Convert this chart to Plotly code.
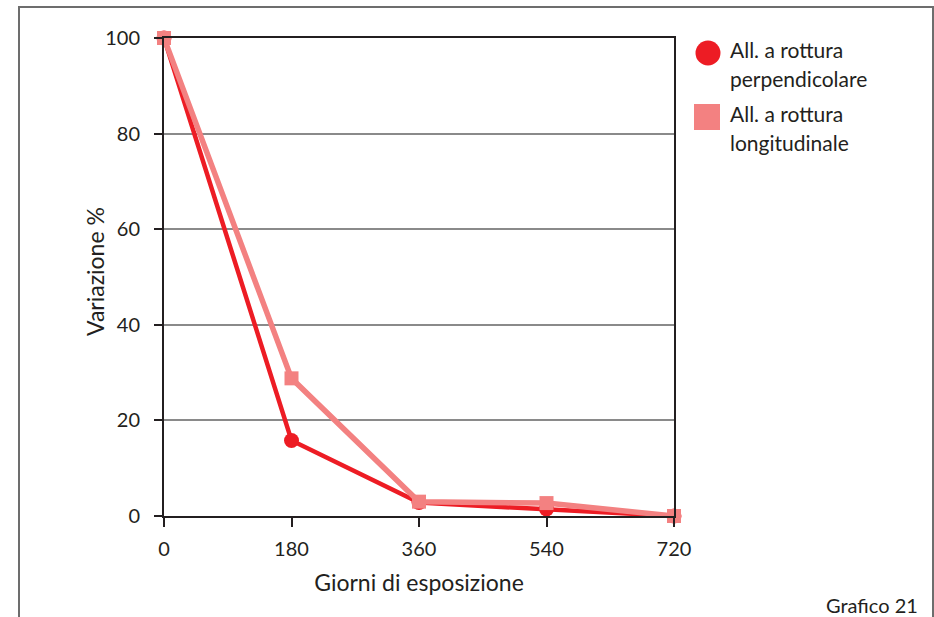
import plotly.graph_objects as go

giorni = [0, 180, 360, 540, 720]
perpendicolare = [100, 15.8, 2.8, 1.5, 0]
longitudinale = [100, 28.8, 3.0, 2.7, 0]
x_ticks = [0, 180, 360, 540, 720]
y_ticks = [0, 20, 40, 60, 80, 100]
serie_nomi = ["All. a rottura<br>perpendicolare", "All. a rottura<br>longitudinale"]

RED = "#ED1C24"
PINK = "#F38181"
TXT = "#231F20"
FONT = "Lato"

W, H = 934, 617
L, R, T, B = 164, 674, 38, 516

fig = go.Figure()
fig.add_trace(go.Scatter(x=giorni, y=perpendicolare, mode="lines+markers",
                         line=dict(color=RED, width=4.5),
                         marker=dict(symbol="circle", size=15, color=RED),
                         cliponaxis=False, showlegend=False))
fig.add_trace(go.Scatter(x=giorni, y=longitudinale, mode="lines+markers",
                         line=dict(color=PINK, width=5.5),
                         marker=dict(symbol="square", size=14, color=PINK),
                         cliponaxis=False, showlegend=False))

# custom legend on an overlay axis (pixel-like coordinates)
leg_x = [708, 707]
leg_y = [53, 117]
txt_y = [49, 113]
fig.add_trace(go.Scatter(x=[leg_x[0]], y=[leg_y[0]], xaxis="x2", yaxis="y2", mode="markers",
                         marker=dict(symbol="circle", size=25, color=RED), showlegend=False))
fig.add_trace(go.Scatter(x=[leg_x[1]], y=[leg_y[1]], xaxis="x2", yaxis="y2", mode="markers",
                         marker=dict(symbol="square", size=26, color=PINK), showlegend=False))
for i, nome in enumerate(serie_nomi):
    lines = nome.split("<br>")
    for j, ln in enumerate(lines):
        fig.add_annotation(x=728, y=txt_y[i] + j * 29, xref="x2", yref="y2", text=ln,
                           showarrow=False, xanchor="left", yanchor="middle",
                           font=dict(family=FONT, size=21, color=TXT))

axis_font = dict(family=FONT, size=20, color=TXT)
fig.update_layout(
    template="none",
    width=W, height=H, autosize=False,
    margin=dict(l=0, r=0, t=0, b=0),
    paper_bgcolor="white", plot_bgcolor="white",
    xaxis=dict(domain=[L / W, R / W], range=[0, 720], tickvals=x_ticks, automargin=False,
               ticks="outside", ticklen=9, tickwidth=2, tickcolor="#231F20",
               showline=True, linecolor="#231F20", linewidth=2, mirror=True,
               showgrid=False, zeroline=False, tickfont=axis_font,
               ticklabelstandoff=5,
               title=dict(text="Giorni di esposizione", font=dict(family=FONT, size=23, color=TXT),
                          standoff=16)),
    yaxis=dict(domain=[(H - B) / H, (H - T) / H], range=[0, 100], tickvals=y_ticks, automargin=False,
               ticks="outside", ticklen=8, tickwidth=2, tickcolor="#231F20",
               showline=True, linecolor="#231F20", linewidth=2, mirror=True,
               showgrid=True, gridcolor="#8a8a8a", gridwidth=1.5, zeroline=False,
               tickfont=axis_font, ticklabelstandoff=10),
    xaxis2=dict(domain=[680 / W, 920 / W], range=[680, 920], visible=False, anchor="y2",
                automargin=False),
    yaxis2=dict(domain=[(H - 170) / H, (H - 20) / H], range=[170, 20], visible=False, anchor="x2",
                automargin=False),
)

# y-axis title placed as a rotated annotation
fig.add_annotation(x=95 / W, y=(H - 272) / H, xref="paper", yref="paper", text="Variazione %",
                   textangle=-90, showarrow=False, xanchor="center", yanchor="middle",
                   font=dict(family=FONT, size=23, color=TXT))

# outer frame of the figure
fig.add_shape(type="rect", xref="paper", yref="paper",
              x0=19 / W, x1=933 / W, y0=-0.05, y1=(H - 7) / H,
              line=dict(color="#6d6d6d", width=2), layer="below")

fig.add_annotation(x=920 / W, y=(H - 605) / H, xref="paper", yref="paper", text="Grafico 21",
                   showarrow=False, xanchor="right", yanchor="middle",
                   font=dict(family=FONT, size=20, color=TXT))

fig.write_html("out.html")
